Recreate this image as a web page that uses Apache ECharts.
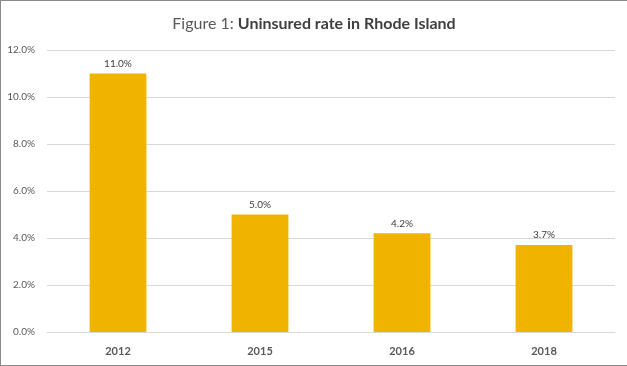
<!DOCTYPE html>
<html><head><meta charset="utf-8">
<script src="https://cdn.jsdelivr.net/npm/echarts@6/dist/echarts.min.js"></script>
<style>html,body{margin:0;padding:0;background:#fff}#c{width:627px;height:366px;box-sizing:border-box;border:1px solid #8a8a8a;border-right:none}</style>
</head><body><div id="c"></div>
<script>
const categories = ['2012', '2015', '2016', '2018'];
const values = [11.0, 5.0, 4.2, 3.7];
const yTicks = [0, 2, 4, 6, 8, 10, 12];

const chart = echarts.init(document.getElementById('c'), null, {renderer: 'canvas'});
chart.setOption({
  animation: false,
  textStyle: {fontFamily: 'Lato'},
  title: {
    left: 'center', top: 10,
    text: '{a|Figure 1: }{b|Uninsured rate in Rhode Island}',
    textStyle: {
      rich: {
        a: {fontFamily: 'Lato', fontSize: 16, color: '#595959', fontWeight: 'normal'},
        b: {fontFamily: 'Lato', fontSize: 16, color: '#404040', fontWeight: 'bold'}
      }
    }
  },
  grid: {left: 46, right: 12, top: 49, bottom: 33},
  xAxis: {
    type: 'category', data: categories,
    axisLine: {lineStyle: {color: '#d9d9d9'}},
    axisTick: {show: false},
    axisLabel: {color: '#595959', fontWeight: 'bold', fontSize: 11, margin: 14}
  },
  yAxis: {
    type: 'value', min: 0, max: 12, interval: 2,
    axisLine: {show: false}, axisTick: {show: false},
    splitLine: {lineStyle: {color: '#d9d9d9'}},
    axisLabel: {color: '#595959', fontSize: 10, margin: 12,
      formatter: v => yTicks.includes(v) ? v.toFixed(1) + '%' : ''}
  },
  series: [{
    type: 'bar', data: values, barWidth: '40%',
    itemStyle: {color: '#F0B400'},
    label: {show: true, position: 'top', color: '#404040', fontSize: 10, distance: 5,
      formatter: p => p.value.toFixed(1) + '%'}
  }]
});
</script></body></html>
